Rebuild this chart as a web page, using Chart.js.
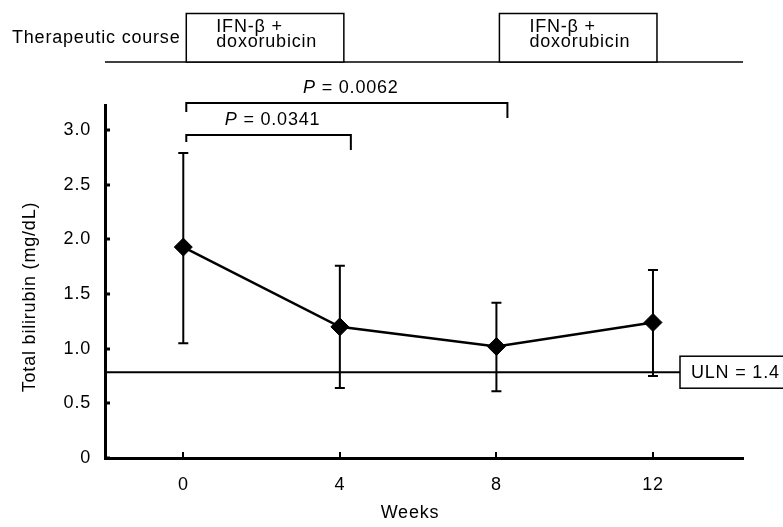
<!DOCTYPE html>
<html><head><meta charset="utf-8">
<script src="https://cdn.jsdelivr.net/npm/chart.js@4/dist/chart.umd.min.js"></script>
<style>html,body{margin:0;padding:0;background:#fff;}#wrap{width:783px;height:527px;}</style>
</head><body><div id="wrap"><canvas id="c" width="783" height="527"></canvas></div>
<script>
const weeks = [0, 4, 8, 12];
const meanBilirubin = [1.93, 1.20, 1.02, 1.24];
const upperBar = [2.79, 1.76, 1.42, 1.72];
const lowerBar = [1.05, 0.64, 0.61, 0.75];
const yTickValues = [0, 0.5, 1.0, 1.5, 2.0, 2.5, 3.0];
const yTickLabels = ['0', '0.5', '1.0', '1.5', '2.0', '2.5', '3.0'];
const xTickValues = [0, 4, 8, 12];
const xTickLabels = ['0', '4', '8', '12'];
const ulnLevel = 0.785;
const ulnLabel = 'ULN = 1.4';
const courseStart = [0, 8];
const courseEnd = [4, 12];
const courseLines = ['IFN-\u03b2 +', 'doxorubicin'];
const courseTitle = 'Therapeutic course';
const compareFrom = [0, 0];
const compareTo = [4, 8];
const compareP = ['0.0341', '0.0062'];
const yTitle = 'Total bilirubin (mg/dL)';
const xTitle = 'Weeks';

const FONT = '"Liberation Sans", Arial, Helvetica, sans-serif';
const SPACING = '0.8px';

const deco = {
  id: 'deco',
  beforeDraw(chart) { chart.ctx.letterSpacing = SPACING; },
  beforeDatasetsDraw(chart) {
    const {ctx, scales: {x, y}, chartArea} = chart;
    ctx.save();
    ctx.strokeStyle = '#000';
    ctx.lineWidth = 2;
    const uy = y.getPixelForValue(ulnLevel);
    ctx.beginPath(); ctx.moveTo(chartArea.left, uy); ctx.lineTo(680, uy); ctx.stroke();
    ctx.lineWidth = 2;
    weeks.forEach((w, i) => {
      const px = x.getPixelForValue(w);
      const t = y.getPixelForValue(upperBar[i]);
      const b = y.getPixelForValue(lowerBar[i]);
      ctx.beginPath();
      ctx.moveTo(px, t); ctx.lineTo(px, b);
      ctx.moveTo(px - 5, t); ctx.lineTo(px + 5, t);
      ctx.moveTo(px - 5, b); ctx.lineTo(px + 5, b);
      ctx.stroke();
    });
    ctx.restore();
  },
  afterDraw(chart) {
    const {ctx, scales: {x, y}, chartArea} = chart;
    ctx.save();
    ctx.letterSpacing = SPACING;
    ctx.strokeStyle = '#000';
    ctx.fillStyle = '#000';
    // tick marks (inward)
    ctx.lineWidth = 3;
    yTickValues.forEach(v => {
      const py = Math.round(y.getPixelForValue(v));
      ctx.beginPath(); ctx.moveTo(chartArea.left, py); ctx.lineTo(chartArea.left + 5, py); ctx.stroke();
    });
    ctx.lineWidth = 2;
    xTickValues.forEach(v => {
      const px = Math.round(x.getPixelForValue(v));
      ctx.beginPath(); ctx.moveTo(px, chartArea.bottom); ctx.lineTo(px, chartArea.bottom - 6); ctx.stroke();
    });
    // therapeutic course
    ctx.font = '18px ' + FONT;
    ctx.textAlign = 'left';
    ctx.textBaseline = 'alphabetic';
    ctx.fillText(courseTitle, 12, 43);
    ctx.lineWidth = 1.5;
    ctx.beginPath(); ctx.moveTo(chartArea.left, 62); ctx.lineTo(chartArea.right, 62); ctx.stroke();
    courseStart.forEach((s, i) => {
      const x0 = x.getPixelForValue(s) + 3;
      const x1 = x.getPixelForValue(courseEnd[i]) + 4;
      ctx.fillStyle = '#fff';
      ctx.fillRect(x0, 13.5, x1 - x0, 48.5);
      ctx.fillStyle = '#000';
      ctx.strokeRect(x0, 13.5, x1 - x0, 48.5);
      ctx.fillText(courseLines[0], x0 + 30, 31.5);
      ctx.fillText(courseLines[1], x0 + 30, 46.5);
    });
    // comparison brackets
    const levels = [{hy: 135, lt: 142, rt: 150, tb: 125}, {hy: 103, lt: 112, rt: 118, tb: 93}];
    compareFrom.forEach((f, i) => {
      const L = levels[i];
      const xl = x.getPixelForValue(f) + 3;
      const xr = x.getPixelForValue(compareTo[i]) + 11;
      ctx.lineWidth = 2;
      ctx.beginPath();
      ctx.moveTo(xl, L.lt); ctx.lineTo(xl, L.hy); ctx.lineTo(xr, L.hy); ctx.lineTo(xr, L.rt);
      ctx.stroke();
      ctx.font = 'italic 18px ' + FONT;
      const wP = ctx.measureText('P').width;
      ctx.font = '18px ' + FONT;
      const rest = ' = ' + compareP[i];
      const wR = ctx.measureText(rest).width;
      const cx = (xl + xr) / 2 + 4;
      const sx = cx - (wP + wR) / 2;
      ctx.textAlign = 'left';
      ctx.font = 'italic 18px ' + FONT;
      ctx.fillText('P', sx, L.tb);
      ctx.font = '18px ' + FONT;
      ctx.fillText(rest, sx + wP, L.tb);
    });
    // ULN box
    const uy = y.getPixelForValue(ulnLevel);
    ctx.lineWidth = 1.5;
    ctx.fillStyle = '#fff';
    ctx.fillRect(680, uy - 16, 120, 32);
    ctx.strokeRect(680, uy - 16, 120, 32);
    ctx.fillStyle = '#000';
    ctx.textBaseline = 'middle';
    ctx.fillText(ulnLabel, 691, uy + 1);
    // axis titles
    ctx.textAlign = 'center';
    ctx.textBaseline = 'middle';
    ctx.fillText(xTitle, 410, 513);
    ctx.translate(30, 297);
    ctx.rotate(-Math.PI / 2);
    ctx.fillText(yTitle, 0, 0);
    ctx.restore();
  }
};

new Chart(document.getElementById('c'), {
  type: 'line',
  data: {
    datasets: [{
      data: weeks.map((w, i) => ({x: w, y: meanBilirubin[i]})),
      borderColor: '#000',
      borderWidth: 2.5,
      tension: 0,
      pointStyle: 'rectRot',
      pointRadius: 9,
      pointBackgroundColor: '#000',
      pointBorderColor: '#000',
      pointBorderWidth: 1
    }]
  },
  options: {
    responsive: false,
    animation: false,
    layout: {padding: {left: 0, top: 105, right: 40, bottom: 0}},
    plugins: {legend: {display: false}, tooltip: {enabled: false}},
    scales: {
      x: {
        type: 'linear', min: -2, max: 14.3,
        afterBuildTicks: s => { s.ticks = xTickValues.map(v => ({value: v})); },
        afterFit: s => { s.height = 69; },
        ticks: {
          autoSkip: false, maxRotation: 0, padding: 16, color: '#000',
          font: {family: FONT, size: 18},
          callback: (v) => xTickLabels[xTickValues.indexOf(v)]
        },
        grid: {display: true, drawOnChartArea: false, drawTicks: false},
        border: {display: true, color: '#000', width: 3}
      },
      y: {
        type: 'linear', min: 0, max: 3.23,
        afterBuildTicks: s => { s.ticks = yTickValues.map(v => ({value: v})); },
        afterFit: s => { s.width = 105; },
        ticks: {
          autoSkip: false, padding: 14, color: '#000',
          font: {family: FONT, size: 18},
          callback: (v) => yTickLabels[yTickValues.indexOf(v)]
        },
        grid: {display: true, drawOnChartArea: false, drawTicks: false},
        border: {display: true, color: '#000', width: 3}
      }
    }
  },
  plugins: [deco]
});
</script>
</body></html>
